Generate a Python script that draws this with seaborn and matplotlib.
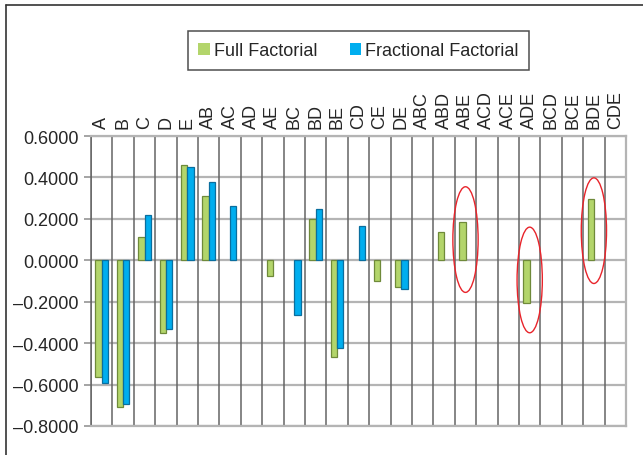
import matplotlib
matplotlib.use("Agg")
import matplotlib.pyplot as plt
from matplotlib.patches import Ellipse
from matplotlib.lines import Line2D
import numpy as np
import pandas as pd
import seaborn as sns

categories = ["A", "B", "C", "D", "E", "AB", "AC", "AD", "AE", "BC", "BD", "BE",
              "CD", "CE", "DE", "ABC", "ABD", "ABE", "ACD", "ACE", "ADE", "BCD",
              "BCE", "BDE", "CDE"]
full_factorial = [-0.562, -0.710, 0.114, -0.353, 0.461, 0.310, np.nan, np.nan, -0.076,
                  np.nan, 0.201, -0.469, np.nan, -0.100, -0.129, np.nan, 0.138, 0.185,
                  np.nan, np.nan, -0.207, np.nan, np.nan, 0.294, np.nan]
fractional_factorial = [-0.590, -0.694, 0.218, -0.333, 0.448, 0.376, 0.264, np.nan, np.nan,
                        -0.262, 0.246, -0.424, 0.165, np.nan, -0.141, np.nan, np.nan, np.nan,
                        np.nan, np.nan, np.nan, np.nan, np.nan, np.nan, np.nan]
series_names = ["Full Factorial", "Fractional Factorial"]
y_ticks = [-0.8, -0.6, -0.4, -0.2, 0.0, 0.2, 0.4, 0.6]
highlighted = ["ABE", "ADE", "BDE"]
highlight_centers = [0.10, -0.095, 0.143]

sns.set_style("white")
plt.rcParams["font.family"] = ["Liberation Sans", "DejaVu Sans"]

df = pd.DataFrame({
    "factor": categories * 2,
    "value": full_factorial + fractional_factorial,
    "series": [series_names[0]] * len(categories) + [series_names[1]] * len(categories),
})

fill_colors = ["#B3D56B", "#00AEEF"]
edge_colors = ["#6F8A3A", "#0A6E9E"]

fig = plt.figure(figsize=(6.43, 4.56), dpi=100)
ax = fig.add_axes([91 / 643, 1 - 427 / 456, (626 - 91) / 643, (427 - 137) / 456])

sns.barplot(data=df, x="factor", y="value", hue="series", order=categories,
            hue_order=series_names, palette=fill_colors, width=0.58, gap=0,
            saturation=1, ax=ax, legend=True, zorder=3)

for cont, ec in zip(ax.containers, edge_colors):
    for bar in cont:
        bar.set_edgecolor(ec)
        bar.set_linewidth(0.9)
        bar.set_zorder(3)

ax.set_xlim(-0.5, len(categories) - 0.5)
ax.set_ylim(-0.8, 0.6)
ax.set_yticks(y_ticks)
ax.set_yticklabels([f"{v:.4f}".replace("-", "\u2013") for v in y_ticks])
ax.set_xlabel("")
ax.set_ylabel("")

# horizontal grid
for v in y_ticks:
    ax.axhline(v, color="#B4B4B4", lw=1.6, zorder=1)
# vertical grid lines between categories
for i in range(len(categories)):
    ax.axvline(i - 0.5, color="#646464", lw=1.1, zorder=2)

ax.xaxis.tick_top()
ax.set_xticks(range(len(categories)))
ax.set_xticklabels(categories, rotation=90, fontsize=13)
ax.tick_params(axis="x", length=0, pad=6)
ax.tick_params(axis="y", left=True, length=5, width=1.1, color="#8C8C8C",
               labelsize=13, pad=4)

for side in ["top", "bottom", "right"]:
    ax.spines[side].set_color("#B4B4B4")
    ax.spines[side].set_linewidth(1.6)
ax.spines["left"].set_color("#646464")
ax.spines["left"].set_linewidth(1.1)

# red ellipses
for name, yc in zip(highlighted, highlight_centers):
    xi = categories.index(name)
    ax.add_patch(Ellipse((xi, yc), width=1.18, height=0.51, fill=False,
                         edgecolor="#E8242B", lw=1.0, zorder=4))

# legend
handles, labels = ax.get_legend_handles_labels()
leg = ax.legend(handles, labels, loc="lower center", bbox_to_anchor=(0.5, 1 + 66 / 290),
                ncol=2, frameon=True, fontsize=13, handlelength=0.65, handleheight=0.65,
                handletextpad=0.2, columnspacing=1.8, borderpad=0.6, borderaxespad=0,
                fancybox=False, edgecolor="#222222")
leg.get_frame().set_linewidth(1.1)
for h in leg.legend_handles:
    h.set_edgecolor("none")

# figure border (top and left)
fig.add_artist(Line2D([6 / 643, 6 / 643], [0, 1 - 6 / 456], color="#333333", lw=1.2,
                      transform=fig.transFigure))
fig.add_artist(Line2D([6 / 643, 1], [1 - 6 / 456, 1 - 6 / 456], color="#333333", lw=1.2,
                      transform=fig.transFigure))

fig.savefig("out.png", dpi=100)
